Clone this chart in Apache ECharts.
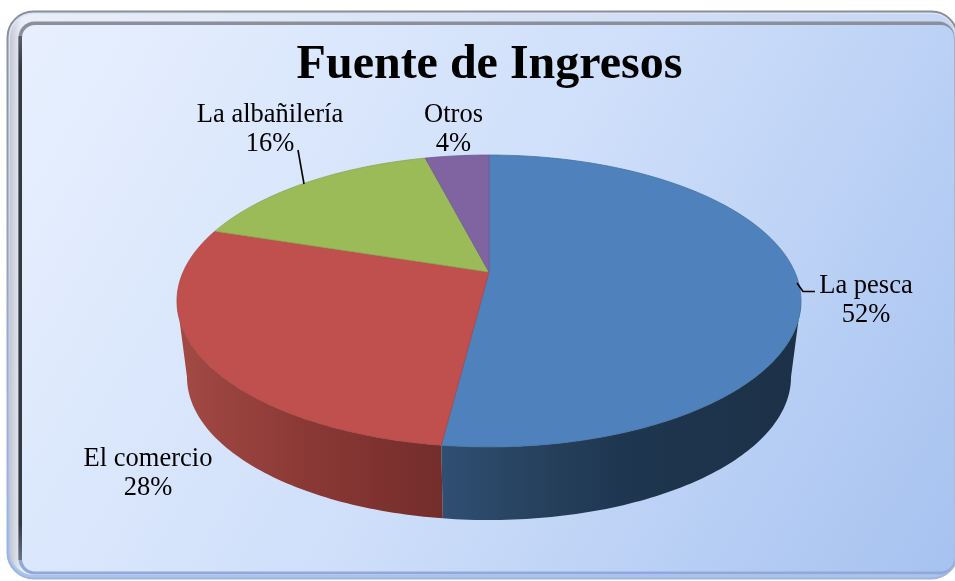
<!DOCTYPE html>
<html><head><meta charset="utf-8">
<style>html,body{margin:0;padding:0;background:#fff}#c{width:955px;height:581px}</style>
<script src="https://cdn.jsdelivr.net/npm/echarts@6/dist/echarts.min.js"></script>
</head><body><div id="c"></div>
<script>
const titleText = 'Fuente de Ingresos';
const categories = ['La pesca', 'El comercio', 'La albañilería', 'Otros'];
const shares = [52, 28, 16, 4];
const topColors = ['#4f81bd', '#c0504d', '#9bbb59', '#8064a2'];
const edgeColors = ['#46739f', '#a84643', '#8aa64f', '#725990'];
const sideStops = [
  [[0, '#2f4f73'], [0.25, '#27425f'], [0.5, '#1f3650'], [1, '#1c3147']],
  [[0, '#a34a44'], [0.5, '#8a3835'], [1, '#732d2b']],
  null, null
];
const labelCentres = [[866, 286], [148, 459], [270, 115], [453.5, 115]];
const leaders = [
  [[797, 283], [803, 291.5], [815, 291.5]],
  null,
  [[298, 150], [304, 184]],
  null
];

const K = 0.1986;
const topFace = {cx: 489, cy: 272, a: 305.8, b: 140.2};
const baseFace = {cx: 489, cy: 348.6, a: 296, b: 137.4};
const rad = Math.PI / 180;
function project(face, deg) {
  const u = Math.sin(deg * rad), v = -Math.cos(deg * rad), w = 1 - K * v;
  return [face.cx + face.a * u / w, face.cy + face.b * v / w];
}
function arc(face, from, to) {
  const n = Math.max(2, Math.ceil(Math.abs(to - from))), pts = [];
  for (let i = 0; i <= n; i++) pts.push(project(face, from + (to - from) * i / n));
  return pts;
}
const extremeRight = Math.acos(-K) / rad, extremeLeft = 360 - extremeRight;
const total = shares.reduce((s, v) => s + v, 0);
function sliceAngles(i) {
  const before = shares.slice(0, i).reduce((s, v) => s + v, 0);
  return [before / total * 360, (before + shares[i]) / total * 360];
}

function renderItem(params, api) {
  const i = api.value(0), [a0, a1] = sliceAngles(i), children = [];
  const s0 = Math.max(a0, extremeRight), s1 = Math.min(a1, extremeLeft);
  if (s1 > s0 && sideStops[i]) {
    const pts = arc(topFace, s0, s1).concat(arc(baseFace, s0, s1).reverse());
    const stops = sideStops[i].map(([o, c]) => ({offset: o, color: c}));
    const grad = new echarts.graphic.LinearGradient(0, 0, 1, 0, stops);
    children.push({type: 'polygon', shape: {points: pts}, style: {fill: grad, stroke: null}});
  }
  const facePts = [[topFace.cx, topFace.cy]].concat(arc(topFace, a0, a1));
  children.push({type: 'polygon', shape: {points: facePts},
    style: {fill: topColors[i], stroke: edgeColors[i], lineWidth: 0.8, lineJoin: 'round'}});
  return {type: 'group', children};
}

function renderLabel(params, api) {
  const i = api.value(0), children = [];
  if (leaders[i]) children.push({type: 'polyline', shape: {points: leaders[i]},
    style: {stroke: '#000', lineWidth: 1.6, fill: null}});
  children.push({type: 'text', x: labelCentres[i][0], y: labelCentres[i][1],
    style: {text: categories[i], font: '26.5px "Liberation Serif"', fill: '#000', align: 'center', verticalAlign: 'middle'}});
  children.push({type: 'text', x: labelCentres[i][0], y: labelCentres[i][1] + 29.5,
    style: {text: shares[i] + '%', font: '26.5px "Liberation Serif"', fill: '#000', align: 'center', verticalAlign: 'middle'}});
  return {type: 'group', children};
}

const indices = shares.map((_, i) => [i]);
const chart = echarts.init(document.getElementById('c'), null, {renderer: 'canvas'});
const G = echarts.graphic.LinearGradient;
chart.setOption({
  animation: false,
  backgroundColor: '#fff',
  title: {text: titleText, left: 484.5, top: 37, textAlign: 'center',
    textStyle: {fontFamily: 'Liberation Serif', fontWeight: 'bold', fontSize: 48, color: '#000'}},
  graphic: [
    {type: 'rect', z: -10, shape: {x: 7.5, y: 11.5, width: 950, height: 567, r: 26},
      style: {fill: new G(0, 0, 0, 1, [{offset: 0, color: '#dbe5f7'}, {offset: 1, color: '#a9c2ef'}]),
        stroke: new G(0, 0, 0, 1, [{offset: 0, color: '#8a8e96'}, {offset: 0.7, color: '#a3aec8'}, {offset: 1, color: '#9db4e0'}]), lineWidth: 2}},
    {type: 'rect', z: -9, shape: {x: 10, y: 14, width: 946, height: 561, r: 24},
      style: {fill: new G(0, 0, 1, 0, [{offset: 0, color: '#c3c8d2'}, {offset: 0.012, color: '#e9eef8'}, {offset: 1, color: '#c6d6f4'}])}},
    {type: 'rect', z: -8, shape: {x: 18.5, y: 21.5, width: 936, height: 553, r: 16},
      style: {fill: new G(0, 0, 0, 1, [{offset: 0, color: '#8a8f9b'}, {offset: 0.5, color: '#8f9db8'}, {offset: 1, color: '#90a9da'}])}},
    {type: 'rect', z: -7.5, shape: {x: 18.5, y: 36, width: 3.5, height: 524},
      style: {fill: new G(0, 0, 0, 1, [{offset: 0, color: '#5a5f69'}, {offset: 0.06, color: '#34383f'}, {offset: 0.93, color: '#34383f'}, {offset: 1, color: '#6a7488'}])}},
    {type: 'rect', z: -7, shape: {x: 22, y: 25, width: 932, height: 546.5, r: 13},
      style: {fill: new G(0, 0, 1, 1, [{offset: 0, color: '#e8f0fe'}, {offset: 0.5, color: '#cfdffa'}, {offset: 1, color: '#a6c2f0'}])}}
  ],
  series: [
    {type: 'custom', coordinateSystem: 'none', renderItem, data: indices, silent: true, z: 2},
    {type: 'custom', coordinateSystem: 'none', renderItem: renderLabel, data: indices, silent: true, z: 3}
  ]
});
</script></body></html>
